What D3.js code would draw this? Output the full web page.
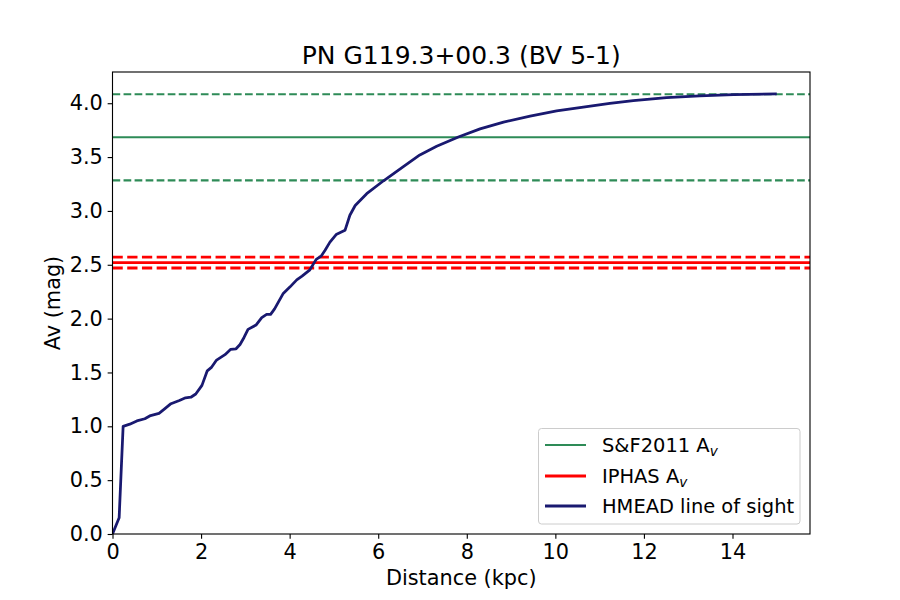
<!DOCTYPE html>
<html>
<head>
<meta charset="utf-8">
<script src="https://cdn.jsdelivr.net/npm/d3@7"></script>
<style>
  body { margin: 0; background: #fff; }
  svg text { font-family: "DejaVu Sans", sans-serif; fill: #000; }
</style>
</head>
<body>
<svg id="chart" width="900" height="600"></svg>
<script>
/* extinction vs distance along the line of sight */

// ── Data ──
const distKpc = [0.0, 0.15, 0.24, 0.39, 0.55, 0.73, 0.86, 1.05, 1.17, 1.32, 1.51, 1.65, 1.77, 1.88,
  2.02, 2.14, 2.24, 2.35, 2.54, 2.67, 2.79, 2.88, 2.97, 3.06, 3.24, 3.37, 3.48, 3.57, 3.66, 3.85,
  4.01, 4.16, 4.28, 4.45, 4.60, 4.71, 4.80, 4.91, 5.05, 5.25, 5.36, 5.48, 5.74, 6.12, 6.56, 6.94,
  7.32, 7.81, 8.30, 8.83, 9.43, 10.03, 10.63, 11.23, 11.76, 12.51, 13.26, 14.02, 15.0];
const avMag = [0.0, 0.15, 1.0, 1.02, 1.05, 1.07, 1.10, 1.12, 1.16, 1.21, 1.24, 1.265, 1.27, 1.30,
  1.38, 1.515, 1.55, 1.615, 1.665, 1.715, 1.72, 1.76, 1.825, 1.90, 1.94, 2.01, 2.04, 2.04, 2.09, 2.23,
  2.295, 2.36, 2.395, 2.45, 2.55, 2.58, 2.635, 2.71, 2.78, 2.82, 2.96, 3.05, 3.16, 3.28, 3.41, 3.52,
  3.60, 3.687, 3.762, 3.825, 3.880, 3.928, 3.964, 3.998, 4.025, 4.052, 4.068, 4.079, 4.087];

const sfAv    = 3.684;   // S&F2011
const sfErr   = 0.40;
const iphasAv = 2.52;
const iphasErr = 0.05;

const xTicks = [0, 2, 4, 6, 8, 10, 12, 14];
const yTicks = [0, 0.5, 1.0, 1.5, 2.0, 2.5, 3.0, 3.5, 4.0];

const titleText = "PN G119.3+00.3 (BV 5-1)";

// ── Layout (matplotlib default axes box) ──
const PX = 100 / 72;           // pt → px
const LEFT = 112.5, RIGHT = 810, TOP = 72, BOTTOM = 534;
const TICK = 3.5 * PX;

const svg = d3.select("#chart");

const x = d3.scaleLinear().domain([0, 15.75]).range([LEFT, RIGHT]);
const y = d3.scaleLinear().domain([0, 4.29]).range([BOTTOM, TOP]);

const COL_SF = "#2e8b57", COL_IPHAS = "#ff0000", COL_LOS = "#191970";

const plot = svg.append("g");
plot.append("clipPath").attr("id", "clip")
  .append("rect").attr("x", LEFT).attr("y", TOP)
  .attr("width", RIGHT - LEFT).attr("height", BOTTOM - TOP);
const inner = plot.append("g").attr("clip-path", "url(#clip)");

function hline(v, color, lw, dashed) {
  const l = inner.append("line")
    .attr("x1", LEFT).attr("x2", RIGHT)
    .attr("y1", y(v)).attr("y2", y(v))
    .attr("stroke", color)
    .attr("stroke-width", lw * PX);
  if (dashed) l.attr("stroke-dasharray", `${3.7 * lw * PX},${1.6 * lw * PX}`);
}

// ── Reference lines ──
hline(sfAv, COL_SF, 1.5, false);
hline(sfAv + sfErr, COL_SF, 1.5, true);
hline(sfAv - sfErr, COL_SF, 1.5, true);
hline(iphasAv, COL_IPHAS, 2, false);
hline(iphasAv + iphasErr, COL_IPHAS, 2, true);
hline(iphasAv - iphasErr, COL_IPHAS, 2, true);

// ── Line of sight curve ──
const line = d3.line().x((d, i) => x(distKpc[i])).y(d => y(d));
inner.append("path")
  .attr("d", line(avMag))
  .attr("fill", "none")
  .attr("stroke", COL_LOS)
  .attr("stroke-width", 2 * PX)
  .attr("stroke-linejoin", "round");

// ── Axes ──
const xAxis = d3.axisBottom(x).tickValues(xTicks).tickFormat(d3.format("d"))
  .tickSizeInner(TICK).tickSizeOuter(0).tickPadding(3.5 * PX);
const yAxis = d3.axisLeft(y).tickValues(yTicks).tickFormat(d3.format(".1f"))
  .tickSizeInner(TICK).tickSizeOuter(0).tickPadding(3.5 * PX);

const gx = svg.append("g").attr("transform", `translate(0,${BOTTOM})`).call(xAxis);
const gy = svg.append("g").attr("transform", `translate(${LEFT},0)`).call(yAxis);
[gx, gy].forEach(g => {
  g.select(".domain").remove();
  g.selectAll(".tick line").attr("stroke", "#000").attr("stroke-width", 0.8 * PX);
  g.selectAll(".tick text").attr("font-size", 15 * PX).attr("font-family", "DejaVu Sans").attr("fill", "#000");
});

// spines
svg.append("rect")
  .attr("x", LEFT).attr("y", TOP)
  .attr("width", RIGHT - LEFT).attr("height", BOTTOM - TOP)
  .attr("fill", "none").attr("stroke", "#000").attr("stroke-width", 0.8 * PX);

// ── Labels ──
svg.append("text")
  .attr("x", (LEFT + RIGHT) / 2).attr("y", 64)
  .attr("text-anchor", "middle")
  .attr("font-size", 18 * PX)
  .text(titleText);

svg.append("text")
  .attr("x", (LEFT + RIGHT) / 2).attr("y", 585)
  .attr("text-anchor", "middle")
  .attr("font-size", 15 * PX)
  .text("Distance (kpc)");

svg.append("text")
  .attr("transform", `translate(59.5,${(TOP + BOTTOM) / 2}) rotate(-90)`)
  .attr("text-anchor", "middle")
  .attr("font-size", 15 * PX)
  .text("Av (mag)");

// ── Legend ──
const LG_X = 538.5, LG_Y = 428.5, LG_W = 261.5, LG_H = 95.5;
const lg = svg.append("g");
lg.append("rect")
  .attr("x", LG_X).attr("y", LG_Y)
  .attr("width", LG_W).attr("height", LG_H)
  .attr("rx", 3)
  .attr("fill", "rgba(255,255,255,0.8)")
  .attr("stroke", "#cccccc").attr("stroke-width", 1);

const legendItems = [
  { label: "S&F2011 A", sub: "v", color: COL_SF, lw: 1.5 },
  { label: "IPHAS A",   sub: "v", color: COL_IPHAS, lw: 2 },
  { label: "HMEAD line of sight", sub: null, color: COL_LOS, lw: 2 }
];
const rowY = [445, 476, 506];

legendItems.forEach((it, i) => {
  const yy = rowY[i];
  lg.append("line")
    .attr("x1", 545).attr("x2", 586)
    .attr("y1", yy).attr("y2", yy)
    .attr("stroke", it.color).attr("stroke-width", it.lw * PX);
  const t = lg.append("text")
    .attr("x", 602).attr("y", yy)
    .attr("dy", "0.36em")
    .attr("font-size", 14 * PX)
    .text(it.label);
  if (it.sub) {
    t.append("tspan")
      .attr("font-size", 14 * PX * 0.7)
      .attr("font-style", "italic")
      .attr("dy", 4)
      .text(it.sub);
  }
});
</script>
</body>
</html>
